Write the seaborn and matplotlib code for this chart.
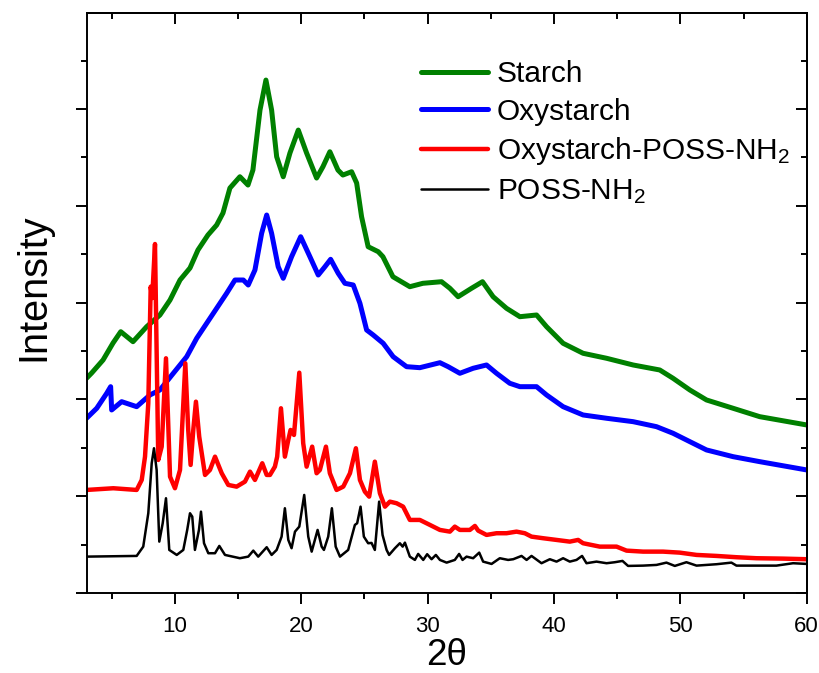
import matplotlib
matplotlib.use("Agg")
import matplotlib.pyplot as plt
import seaborn as sns
from matplotlib.ticker import MultipleLocator

# values (2theta in degrees, intensity in a.u.)
starch_x = [3.0, 3.41, 4.31, 5.10, 5.71, 6.68, 7.76, 8.81, 9.61, 10.40, 11.19, 11.82, 12.61,
            13.30, 13.80, 14.35, 15.14, 15.78, 16.17, 16.73, 17.20, 17.65, 18.05, 18.57,
            19.10, 19.76, 20.42, 21.21, 21.71, 22.26, 22.90, 23.29, 23.98, 24.38, 24.77,
            25.29, 26.09, 26.46, 27.25, 28.59, 29.62, 31.10, 31.76, 32.41, 33.47, 34.34,
            35.18, 36.24, 37.30, 38.62, 39.41, 40.72, 42.30, 44.16, 46.26, 48.37, 49.42,
            50.75, 52.07, 54.17, 56.28, 60.0]
starch_y = [214.7, 220, 233, 250, 261.3, 251.3, 266.3, 278, 293, 313, 325, 343, 358,
            368, 380, 405, 416.3, 408, 423, 483, 513, 483, 436.3, 416.3,
            440, 463, 440, 415, 426.3, 441.3, 423, 418, 421.3, 410, 376.3,
            346.3, 341.3, 336.3, 316.3, 306.3, 309.7, 311.3, 304.7, 296.3, 304.7, 311.3,
            296.3, 284.7, 276.3, 278, 266.3, 249.7, 239.7, 234.7, 228, 223, 214.7,
            203, 193, 184.7, 176.3, 168]

oxy_x = [3.0, 3.81, 4.60, 4.91, 4.99, 5.78, 6.97, 8.02, 8.81, 9.87, 10.93, 11.72, 12.51,
         13.30, 14.09, 14.75, 15.41, 15.80, 16.33, 16.86, 17.26, 17.65, 18.17, 18.57,
         19.23, 19.95, 20.68, 21.34, 21.87, 22.32, 22.92, 23.45, 24.11, 24.64, 25.17,
         25.69, 26.48, 27.27, 28.33, 29.38, 30.97, 31.62, 32.55, 33.60, 34.66, 35.45,
         36.50, 37.30, 38.62, 39.41, 40.72, 42.30, 44.16, 46.26, 48.11, 49.42, 50.75,
         52.07, 54.17, 56.28, 60.0]
oxy_y = [174.7, 184.7, 199.7, 206.3, 183, 191.3, 186.3, 198, 203, 219.7, 236.3, 254.7, 269.7,
         284.7, 299.7, 313, 313, 308, 323, 359.7, 378, 359.7, 326.3, 314.7,
         336.3, 356.3, 336.3, 318, 326.3, 333.7, 319.7, 309.7, 308, 289.7, 263,
         258, 249.7, 236.3, 226.3, 225.3, 230.3, 226.3, 219.7, 224.7, 228, 219.7,
         209.7, 206.3, 206.3, 198, 186.3, 178, 174.7, 171.3, 166.3, 159.7, 151.3,
         143, 136.3, 131.3, 123]

oxyposs_x = [3.0, 5.12, 6.97, 7.37, 7.63, 7.89, 8.08, 8.20, 8.42, 8.68, 8.95, 9.29, 9.61,
             10.00, 10.40, 10.61, 10.82, 11.05, 11.24, 11.45, 11.66, 11.92, 12.38, 12.77,
             13.17, 13.70, 14.22, 14.88, 15.54, 15.94, 16.33, 16.91, 17.26, 17.52, 17.91,
             18.09, 18.39, 18.70, 18.97, 19.15, 19.42, 19.84, 20.15, 20.42, 20.86, 21.21,
             21.47, 21.95, 22.26, 22.79, 23.32, 23.85, 24.32, 24.64, 25.03, 25.37, 25.82,
             26.22, 26.62, 27.01, 27.54, 28.06, 28.59, 29.38, 30.18, 30.97, 31.76, 32.15,
             32.55, 33.34, 33.74, 34.00, 34.66, 35.45, 36.24, 37.03, 37.69, 38.22, 39.14,
             40.20, 41.25, 41.91, 42.30, 43.62, 44.95, 45.74, 47.05, 48.63, 49.95, 51.28,
             52.86, 54.44, 56.02, 58.13, 60.0]
oxyposs_y = [103, 104.7, 103, 113, 136.3, 189.7, 306.3, 295, 349, 133, 146.3, 234.7, 116.3,
             104.7, 123, 176.3, 229.7, 163, 128, 163, 191.3, 156.3, 118, 123,
             136.3, 119.7, 108, 106.3, 111.3, 121.3, 113, 129.7, 118, 118, 126.3,
             136.3, 184.7, 136.3, 153, 163, 158, 220.3, 149.7, 126.3, 146.3, 119.7,
             123, 146.3, 119.7, 103, 106.3, 119.7, 144.7, 113, 101.3, 96.3, 131.3,
             99.7, 86.3, 91.3, 89.7, 86.3, 73, 73, 68, 63, 61.3, 66.3,
             63, 63, 67, 62.3, 58, 59.7, 59.7, 61.3, 59.7, 56.3, 54.7,
             53, 51.3, 53, 49.7, 46.3, 46.3, 42.3, 41.3, 41.3, 40.3, 38,
             37, 35.7, 34.7, 34.3, 33.7]

poss_x = [3.0, 6.97, 7.49, 7.89, 8.16, 8.34, 8.55, 8.76, 9.03, 9.29, 9.55, 10.14, 10.66,
          10.97, 11.19, 11.37, 11.58, 11.90, 12.06, 12.30, 12.64, 13.17, 13.51, 13.96,
          15.14, 15.80, 16.20, 16.59, 17.26, 17.65, 18.05, 18.44, 18.70, 18.97, 19.23,
          19.50, 19.84, 20.23, 20.55, 20.82, 21.29, 21.61, 21.79, 22.13, 22.42, 22.72,
          23.06, 23.71, 24.24, 24.42, 24.69, 24.95, 25.29, 25.56, 25.82, 26.16, 26.43,
          26.75, 26.95, 27.41, 27.80, 28.02, 28.20, 28.59, 28.99, 29.25, 29.65, 29.96,
          30.31, 30.65, 30.97, 31.50, 32.15, 32.49, 32.76, 33.08, 33.60, 34.08, 34.39,
          35.06, 35.71, 36.37, 36.77, 37.43, 37.83, 38.22, 39.01, 39.67, 40.20, 40.72,
          41.25, 41.78, 42.22, 42.57, 43.36, 44.16, 44.81, 45.42, 45.86, 47.05, 48.11,
          48.90, 49.56, 50.48, 51.28, 52.86, 54.04, 54.44, 56.02, 57.60, 58.92, 60.0]
poss_y = [36.3, 37, 46.3, 79.7, 129.7, 144.7, 123, 51.3, 69.7, 94.7, 43, 38, 43,
          63, 79.7, 76.3, 43, 63, 81.3, 49.7, 39.7, 39.7, 47, 38,
          34.7, 36.3, 42.3, 36.3, 45.7, 38, 43, 56.3, 84.7, 53, 44.7,
          61.3, 66.3, 98, 56.3, 41.3, 63, 46.3, 43, 56.3, 84.7, 46.3,
          36.3, 43, 68, 69.7, 86.3, 56.3, 49.7, 50, 43, 91.3, 58,
          43, 38, 44.7, 49.7, 46.3, 50.3, 36.3, 33, 39, 33, 38.7,
          33.7, 38, 33, 30.3, 33, 39, 33, 36.3, 34.7, 40.3, 31.3,
          29, 34.7, 33, 33.7, 37, 33, 37, 29.7, 33.7, 31.3, 34.7,
          31.3, 33, 37, 29.7, 31.3, 29.7, 30.7, 32, 27, 27.3, 28,
          30.3, 27, 30.7, 27.3, 28.7, 30.3, 27.3, 27.3, 27.3, 29.7, 29]

sns.set_style("ticks")
plt.rcParams['font.family'] = ['Liberation Sans', 'DejaVu Sans']
plt.rcParams['mathtext.fontset'] = 'custom'
plt.rcParams['mathtext.rm'] = 'Liberation Sans'
plt.rcParams['mathtext.it'] = 'Liberation Sans'
for key in ['text.color', 'axes.labelcolor', 'axes.edgecolor', 'xtick.color', 'ytick.color']:
    plt.rcParams[key] = 'black'

fig = plt.figure(figsize=(8.2, 6.73), dpi=100)
ax = fig.add_axes([0.1055, 0.119, 0.8783, 0.862])

sns.lineplot(x=starch_x, y=starch_y, color="#008000", lw=3.6, label="Starch", ax=ax)
sns.lineplot(x=oxy_x, y=oxy_y, color="#0000ff", lw=3.6, label="Oxystarch", ax=ax)
sns.lineplot(x=oxyposs_x, y=oxyposs_y, color="#ff0000", lw=3.2, label="Oxystarch-POSS-NH$_2$", ax=ax)
sns.lineplot(x=poss_x, y=poss_y, color="black", lw=1.8, label="POSS-NH$_2$", ax=ax)

ax.set_xlim(3, 60)
ax.set_ylim(0, 580.3)
ax.xaxis.set_major_locator(MultipleLocator(10))
ax.xaxis.set_minor_locator(MultipleLocator(5))
ax.yaxis.set_major_locator(MultipleLocator(96.8))
ax.yaxis.set_minor_locator(MultipleLocator(48.4))
ax.set_yticklabels([])
ax.tick_params(which='major', direction='out', length=8, width=1.4, labelsize=16, pad=8.5)
ax.tick_params(which='minor', direction='out', length=4, width=1.4)
for s in ax.spines.values():
    s.set_linewidth(1.4)

top = ax.secondary_xaxis('top')
top.xaxis.set_major_locator(MultipleLocator(10))
top.xaxis.set_minor_locator(MultipleLocator(5))
top.tick_params(which='major', direction='in', length=8, width=1.4, labeltop=False)
top.tick_params(which='minor', direction='in', length=4, width=1.4)
right = ax.secondary_yaxis('right')
right.yaxis.set_major_locator(MultipleLocator(96.8))
right.yaxis.set_minor_locator(MultipleLocator(48.4))
right.tick_params(which='major', direction='in', length=8, width=1.4, labelright=False)
right.tick_params(which='minor', direction='in', length=4, width=1.4)
for sec in (top, right):
    for s in sec.spines.values():
        s.set_linewidth(1.4)

ax.set_xlabel("2θ", fontsize=26.5, labelpad=0.5)
ax.set_ylabel("Intensity", fontsize=28.5)
ax.yaxis.set_label_coords(-0.047, 0.527)

ax.legend(loc='upper left', bbox_to_anchor=(0.464, 0.918), frameon=False, fontsize=21.5,
          handlelength=2.25, handletextpad=0.3, borderpad=0, borderaxespad=0, labelspacing=0.32)

fig.savefig("out.png", dpi=100)
